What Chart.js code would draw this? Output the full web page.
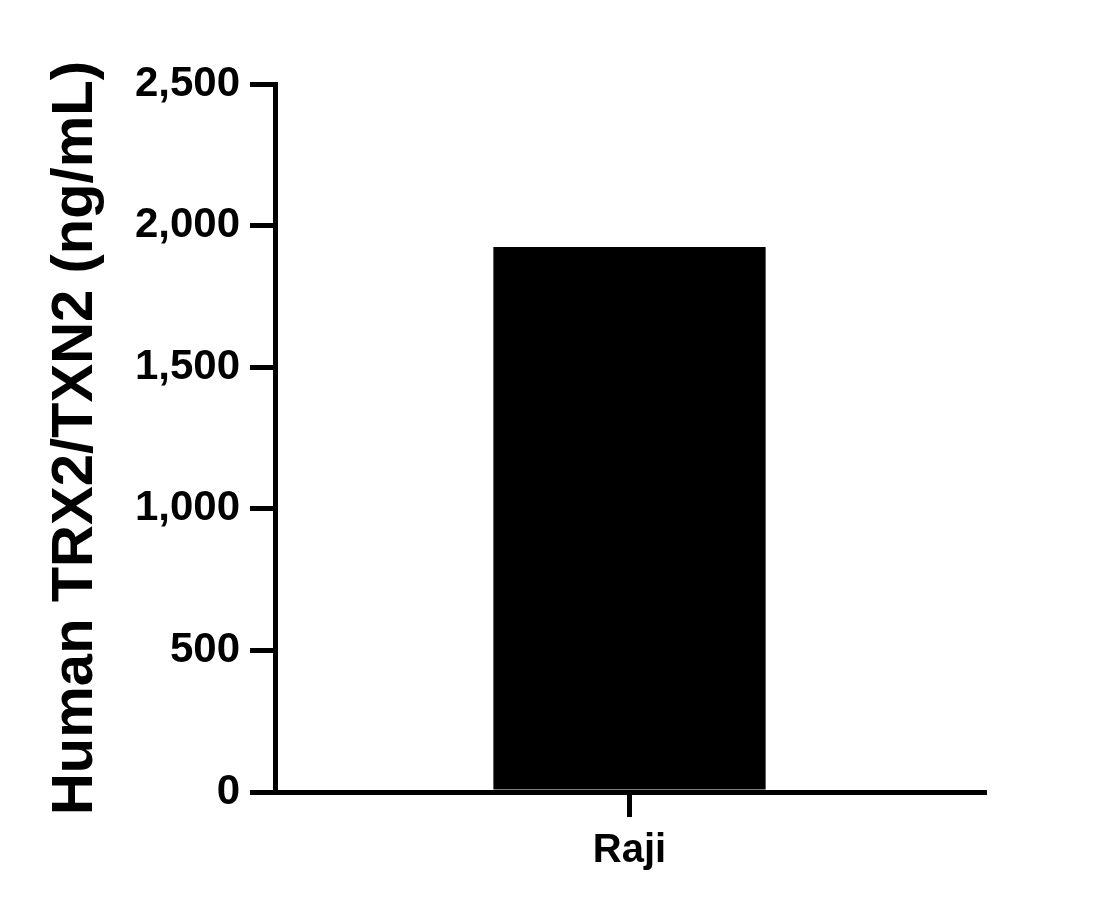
<!DOCTYPE html>
<html>
<head>
<meta charset="utf-8">
<script src="https://cdn.jsdelivr.net/npm/chart.js@4.4.0/dist/chart.umd.min.js"></script>
<style>
  html, body { margin: 0; padding: 0; background: #ffffff; }
  #wrap { width: 1117px; height: 909px; }
</style>
</head>
<body>
<div id="wrap"><canvas id="chart" width="1117" height="909"></canvas></div>
<script>
// Human TRX2/TXN2 in Raji cells
const categories = ['Raji'];
const concentrations = [1924];
const yTicks = [0, 500, 1000, 1500, 2000, 2500];

const fontFamily = '"Liberation Sans", Arial, Helvetica, sans-serif';

const ctx = document.getElementById('chart').getContext('2d');

const chart = new Chart(ctx, {
    type: 'bar',
    data: {
        labels: categories,
        datasets: [{
            label: 'Human TRX2/TXN2',
            data: concentrations,
            backgroundColor: '#000000',
            borderWidth: 0,
            categoryPercentage: 1.0,
            barPercentage: 0.384
        }]
    },
    options: {
        responsive: false,
        devicePixelRatio: 1,
        animation: false,
        layout: {
            padding: { top: 84, right: 133, bottom: 0, left: 0 }
        },
        plugins: {
            legend: { display: false },
            tooltip: { enabled: false }
        },
        scales: {
            x: {
                grid: {
                    offset: false,
                    drawOnChartArea: false,
                    color: '#000000',
                    lineWidth: 5,
                    tickLength: 25,
                    tickWidth: 5
                },
                border: { display: true, color: '#000000', width: 5 },
                ticks: {
                    color: '#000000',
                    padding: 10,
                    font: { family: fontFamily, size: 40, weight: 'bold' }
                },
                afterFit: function(scale) {
                    scale.height = 117;
                }
            },
            y: {
                min: 0,
                max: 2500,
                afterBuildTicks: function(scale) {
                    scale.ticks = yTicks.map(v => ({ value: v }));
                },
                grid: {
                    drawOnChartArea: false,
                    color: '#000000',
                    lineWidth: 5,
                    tickLength: 25,
                    tickWidth: 5
                },
                border: { display: true, color: '#000000', width: 5 },
                ticks: {
                    color: '#000000',
                    padding: 10,
                    font: { family: fontFamily, size: 42, weight: 'bold' },
                    callback: function(value) {
                        return value.toLocaleString('en-US');
                    }
                },
                title: {
                    display: true,
                    text: 'Human TRX2/TXN2 (ng/mL)',
                    color: '#000000',
                    padding: { top: 41, bottom: 0 },
                    font: { family: fontFamily, size: 58, weight: 'bold' }
                },
                afterFit: function(scale) {
                    scale.width = 275;
                }
            }
        }
    }
});
</script>
</body>
</html>
